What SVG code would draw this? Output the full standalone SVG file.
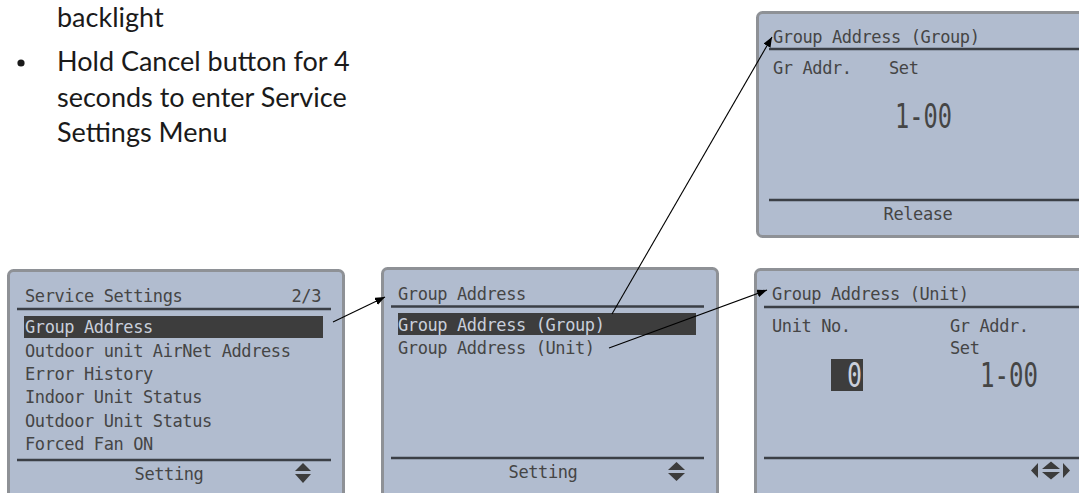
<svg xmlns="http://www.w3.org/2000/svg" width="1079" height="493" viewBox="0 0 1079 493">
<defs>
<style>
.note{font-family:Lato,"Liberation Sans",sans-serif;font-size:27px;fill:#1a1a1a}
.panel{fill:#b1bccf;stroke:#8e9196;stroke-width:3}
.lcd{font-family:"DejaVu Sans Mono",monospace;font-size:17px;letter-spacing:-0.4px;fill:#454545}
.big{font-family:"DejaVu Sans Mono",monospace;font-size:33px;fill:#454545}
text.inv{fill:#c9cfdb}
.rule{stroke:#3b3f46;stroke-width:2.5}
.bar{fill:#3d3d3d}
.sym{fill:#3c3c3c}
.conn{stroke:#000;stroke-width:1.1;fill:none;marker-end:url(#ah)}
</style>
<marker id="ah" viewBox="0 0 10 8" refX="10" refY="4" markerWidth="10" markerHeight="8" markerUnits="userSpaceOnUse" orient="auto">
<path d="M0,0 L10,4 L0,8 Z" fill="#000"/>
</marker>
</defs>
<rect width="1079" height="493" fill="#fff"/>

<g id="note">
<text class="note" x="57" y="27">backlight</text>
<circle cx="21" cy="63" r="3.6" fill="#1a1a1a"/>
<text class="note" x="57" y="71">Hold Cancel button for 4</text>
<text class="note" x="57" y="107">seconds to enter Service</text>
<text class="note" x="57" y="142">Settings Menu</text>
</g>

<g id="service-settings">
<rect class="panel" x="8.5" y="270.5" width="335" height="240" rx="5"/>
<text class="lcd" x="25" y="302">Service Settings</text>
<text class="lcd" x="321" y="302" text-anchor="end">2/3</text>
<line class="rule" x1="17" y1="309" x2="331" y2="309"/>
<rect class="bar" x="24" y="316" width="299" height="22"/>
<text class="lcd inv" x="25" y="333">Group Address</text>
<text class="lcd" x="25" y="357">Outdoor unit AirNet Address</text>
<text class="lcd" x="25" y="380">Error History</text>
<text class="lcd" x="25" y="403">Indoor Unit Status</text>
<text class="lcd" x="25" y="427">Outdoor Unit Status</text>
<text class="lcd" x="25" y="450">Forced Fan ON</text>
<line class="rule" x1="17" y1="460" x2="331" y2="460"/>
<text class="lcd" x="169" y="480" text-anchor="middle">Setting</text>
<path class="sym" d="M295,471 L303,463 L311,471 Z M295,474 L311,474 L303,483 Z"/>
</g>

<g id="group-address">
<rect class="panel" x="382.5" y="268.5" width="335" height="240" rx="5"/>
<text class="lcd" x="398" y="300">Group Address</text>
<line class="rule" x1="391" y1="306.5" x2="704" y2="306.5"/>
<rect class="bar" x="398" y="313" width="298" height="22"/>
<text class="lcd inv" x="398" y="331">Group Address (Group)</text>
<text class="lcd" x="398" y="354">Group Address (Unit)</text>
<line class="rule" x1="391" y1="458" x2="704" y2="458"/>
<text class="lcd" x="543" y="478" text-anchor="middle">Setting</text>
<path class="sym" d="M668,470 L676.5,462 L685,470 Z M668,473 L685,473 L676.5,481 Z"/>
</g>

<g id="group-address-group">
<rect class="panel" x="757.5" y="12.5" width="340" height="224" rx="5"/>
<text class="lcd" x="773" y="43">Group Address (Group)</text>
<line class="rule" x1="769" y1="49" x2="1079" y2="49"/>
<text class="lcd" x="773" y="74">Gr Addr.</text>
<text class="lcd" x="889" y="74">Set</text>
<text class="big" x="895" y="128" textLength="57" lengthAdjust="spacingAndGlyphs">1-00</text>
<line class="rule" x1="769" y1="200" x2="1079" y2="200"/>
<text class="lcd" x="918" y="220" text-anchor="middle">Release</text>
</g>

<g id="group-address-unit">
<rect class="panel" x="755.5" y="269.5" width="340" height="240" rx="5"/>
<text class="lcd" x="772" y="300">Group Address (Unit)</text>
<line class="rule" x1="764" y1="307" x2="1079" y2="307"/>
<text class="lcd" x="772" y="332">Unit No.</text>
<text class="lcd" x="950" y="332">Gr Addr.</text>
<text class="lcd" x="950" y="354">Set</text>
<rect class="bar" x="831" y="359" width="32" height="32"/>
<text class="big inv" x="847" y="387" textLength="15" lengthAdjust="spacingAndGlyphs">0</text>
<text class="big" x="980" y="387" textLength="58" lengthAdjust="spacingAndGlyphs">1-00</text>
<line class="rule" x1="764" y1="458" x2="1079" y2="458"/>
<path class="sym" d="M1038,463 L1038,478 L1031,470.5 Z M1042,469 L1051,461.5 L1060,469 Z M1042,472 L1060,472 L1051,479.5 Z M1063,463 L1070,470.5 L1063,478 Z"/>
</g>

<g id="connectors">
<line class="conn" x1="333" y1="322" x2="385" y2="297"/>
<line class="conn" x1="612" y1="314" x2="772" y2="37"/>
<line class="conn" x1="609" y1="348" x2="767" y2="290"/>
</g>
</svg>
